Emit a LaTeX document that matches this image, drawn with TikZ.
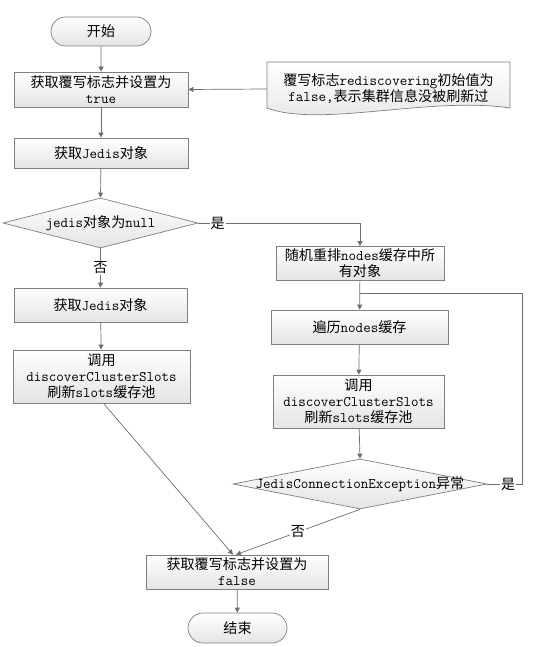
\documentclass[tikz,border=0pt]{standalone}
\usepackage{fontspec}
\newfontfamily\cjkf[Scale=0.965]{Noto Sans CJK SC}
\newcommand\zhtxt[1]{{\cjkf #1}}
\usetikzlibrary{arrows.meta,shapes.geometric,shapes.misc}
\definecolor{boxline}{HTML}{7F7F7F}
\definecolor{linegray}{HTML}{6E6E6E}
\definecolor{fillgray}{HTML}{E4E4E4}
\begin{document}
\begin{tikzpicture}[x=1pt,y=-1pt,
  every node/.style={font=\ttfamily\fontsize{14.6}{16}\selectfont, text=black},
  procbox/.style={rectangle, draw=boxline, line width=0.7pt, top color=white, bottom color=fillgray, align=center, inner sep=0pt},
  termbox/.style={rounded rectangle, draw=boxline, line width=0.7pt, top color=white, bottom color=fillgray, inner sep=0pt},
  decbox/.style={diamond, draw=boxline, line width=0.7pt, top color=white, bottom color=fillgray, inner sep=0pt},
  arr/.style={draw=linegray, line width=0.7pt, -{Triangle[length=5pt,width=5pt]}},
  plain/.style={draw=linegray, line width=0.7pt},
  lbl/.style={fill=white, inner sep=1pt}]
\useasboundingbox (0,0) rectangle (534,647);

% nodes
\node[termbox, minimum width=100pt, minimum height=29pt] (start) at (101,31.5) {\zhtxt{开始}};
\node[procbox, minimum width=174pt, minimum height=35pt] (b1) at (101,89.5) {\zhtxt{获取覆写标志并设置为}\\true};
\node[procbox, minimum width=174pt, minimum height=30pt] (b2) at (101,153) {\zhtxt{获取}Jedis\zhtxt{对象}};
\node[decbox, minimum width=195pt, minimum height=50pt] (d1) at (100.5,223) {};
\node (d1t) at (d1.center) {jedis\zhtxt{对象为}null};
\node[procbox, minimum width=168pt, minimum height=34pt] (b3) at (360,263.5) {\zhtxt{随机重排}nodes\zhtxt{缓存中所}\\\zhtxt{有对象}};
\node[procbox, minimum width=173pt, minimum height=34pt] (b4) at (100.5,305) {\zhtxt{获取}Jedis\zhtxt{对象}};
\node[procbox, minimum width=177pt, minimum height=53pt] (b5) at (101.5,376.5) {\zhtxt{调用}\\discoverClusterSlots\\\zhtxt{刷新}slots\zhtxt{缓存池}};
\node[procbox, minimum width=177pt, minimum height=34pt] (b6) at (359.5,327) {\zhtxt{遍历}nodes\zhtxt{缓存}};
\node[procbox, minimum width=171pt, minimum height=53pt] (b7) at (358.5,401.5) {\zhtxt{调用}\\discoverClusterSlots\\\zhtxt{刷新}slots\zhtxt{缓存池}};
\node[decbox, minimum width=254pt, minimum height=50pt] (d2) at (360,484) {};
\node (d2t) at (d2.center) {JedisConnectionException\zhtxt{异常}};
\node[procbox, minimum width=182pt, minimum height=34pt] (b8) at (237,572) {\zhtxt{获取覆写标志并设置为}\\false};
\node[termbox, minimum width=99pt, minimum height=30pt] (stop) at (237.5,628) {\zhtxt{结束}};

% note (document shape)
\draw[draw=boxline, line width=0.7pt, top color=white, bottom color=fillgray]
  (267,108) -- (267,62) -- (510,62) -- (510,108)
  .. controls (430,96) and (320,128) .. (267,108) -- cycle;
\node[align=center, inner sep=0pt, minimum width=243pt, minimum height=40pt] (note) at (388.5,89)
  {\zhtxt{覆写标志}rediscovering\zhtxt{初始值为}\\false,\zhtxt{表示集群信息没被刷新过}};

\coordinate (loopR) at (522,293);

% connectors
\draw[arr] (start) -- (b1);
\draw[arr] (note.west) -- (b1.east);
\draw[arr] (b1) -- (b2);
\draw[arr] (b2) -- (d1.north);
\draw[arr] (d1.east) -| node[lbl,pos=0.06]{\zhtxt{是}} (b3.north);
\draw[arr] (d1.south) -- node[lbl]{\zhtxt{否}} (b4.north);
\draw[arr] (b4) -- (b5);
\draw[arr] ([xshift=2pt]b5.south) -- ([xshift=-4pt]b8.north);
\draw[arr] (b3) -- (b6);
\draw[arr] (b6) -- (b7);
\draw[arr] (b7) -- (d2.north);
\draw[plain] (d2.east) -| node[lbl,pos=0.3]{\zhtxt{是}} (loopR) -- (b3.south |- loopR);
\draw[arr] (d2.south) -- node[lbl]{\zhtxt{否}} ([xshift=-1pt]b8.north);
\draw[arr] (b8) -- (stop);
\end{tikzpicture}
\end{document}
